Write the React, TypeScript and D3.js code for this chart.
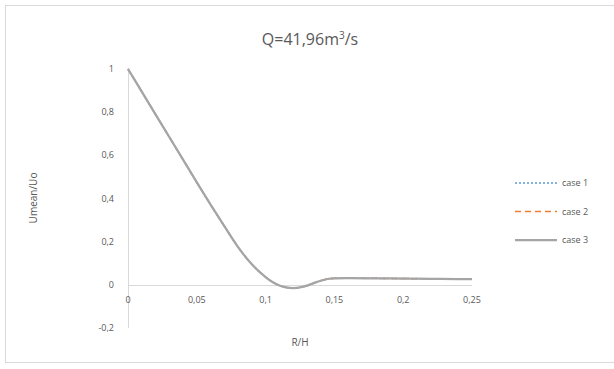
import * as d3 from 'd3';
import React, { useRef, useEffect } from 'react';

// R/H positions and Umean/Uo values
const rh = [0, 0.01, 0.02, 0.03, 0.04, 0.05, 0.06, 0.07, 0.08, 0.09, 0.1, 0.105, 0.11, 0.115, 0.12, 0.125, 0.13, 0.135, 0.14, 0.145, 0.15, 0.16, 0.18, 0.2, 0.22, 0.24, 0.25];
const caseOne = [1, 0.895, 0.79, 0.685, 0.58, 0.475, 0.372, 0.272, 0.175, 0.095, 0.036, 0.013, -0.003, -0.012, -0.015, -0.012, -0.004, 0.008, 0.019, 0.027, 0.03, 0.031, 0.03, 0.029, 0.028, 0.027, 0.026];
const caseTwo = [1, 0.895, 0.79, 0.685, 0.58, 0.475, 0.372, 0.272, 0.175, 0.095, 0.036, 0.013, -0.003, -0.012, -0.015, -0.012, -0.004, 0.008, 0.019, 0.027, 0.03, 0.031, 0.03, 0.029, 0.028, 0.027, 0.026];
const caseThree = [1, 0.895, 0.79, 0.685, 0.58, 0.475, 0.372, 0.272, 0.175, 0.095, 0.036, 0.013, -0.003, -0.012, -0.015, -0.012, -0.004, 0.008, 0.019, 0.027, 0.03, 0.031, 0.03, 0.029, 0.028, 0.027, 0.026];
const seriesNames = ['case 1', 'case 2', 'case 3'];
const xTicks = [0, 0.05, 0.1, 0.15, 0.2, 0.25];
const yTicks = [-0.2, 0, 0.2, 0.4, 0.6, 0.8, 1];

function App() {
  const ref = useRef<SVGSVGElement>(null);

  useEffect(() => {
    const width = 614;
    const font = 'Open Sans, Liberation Sans, sans-serif';
    const labelColor = '#595959';

    const svg = d3.select(ref.current);
    svg.selectAll('*').remove();

    svg.append('rect')
      .attr('x', 5.5).attr('y', 5.5)
      .attr('width', width + 10).attr('height', 357)
      .attr('fill', '#fff').attr('stroke', '#d9d9d9');

    const x = d3.scaleLinear().domain([0, 0.25]).range([128, 472]);
    const y = d3.scaleLinear().domain([-0.2, 1]).range([328, 69]);
    const fmt = (v: number) => String(+v.toFixed(2)).replace('.', ',');

    // axis lines
    svg.append('line')
      .attr('x1', x(0)).attr('x2', x(0.25))
      .attr('y1', Math.round(y(0)) + 0.5).attr('y2', Math.round(y(0)) + 0.5)
      .attr('stroke', '#d9d9d9');
    svg.append('line')
      .attr('x1', Math.round(x(0)) + 0.5).attr('x2', Math.round(x(0)) + 0.5)
      .attr('y1', y(1)).attr('y2', y(-0.2))
      .attr('stroke', '#d9d9d9');

    svg.append('g').selectAll('text')
      .data(yTicks).enter().append('text')
      .attr('x', 114).attr('y', d => y(d))
      .attr('dy', '0.35em').attr('text-anchor', 'end')
      .attr('font-family', font).attr('font-size', 9)
      .attr('fill', labelColor)
      .text(d => fmt(d));

    svg.append('g').selectAll('text')
      .data(xTicks).enter().append('text')
      .attr('x', d => x(d)).attr('y', y(0) + 18)
      .attr('text-anchor', 'middle')
      .attr('font-family', font).attr('font-size', 9)
      .attr('fill', labelColor)
      .text(d => fmt(d));

    const rows = rh.map((r, i) => ({ r, v: [caseOne[i], caseTwo[i], caseThree[i]] }));
    const colors = ['#5b9bd5', '#ed7d31', '#a5a5a5'];
    const dashes = ['2,2', '6,4', null];

    seriesNames.forEach((name, k) => {
      const line = d3.line<{ r: number; v: number[] }>()
        .x(d => x(d.r))
        .y(d => y(d.v[k]))
        .curve(d3.curveCatmullRom.alpha(0.5));
      svg.append('path')
        .datum(rows)
        .attr('d', line)
        .attr('fill', 'none')
        .attr('stroke', colors[k])
        .attr('stroke-width', k === 2 ? 2.25 : 1.5)
        .attr('stroke-dasharray', dashes[k]);

      const ly = 183 + k * 28.5;
      svg.append('line')
        .attr('x1', 515).attr('x2', 557)
        .attr('y1', ly).attr('y2', ly)
        .attr('stroke', colors[k])
        .attr('stroke-width', k === 2 ? 2.25 : 1.5)
        .attr('stroke-dasharray', dashes[k]);
      svg.append('text')
        .attr('x', 562).attr('y', ly).attr('dy', '0.35em')
        .attr('font-family', font).attr('font-size', 9)
        .attr('fill', labelColor)
        .text(name);
    });

    const title = svg.append('text')
      .attr('x', 310).attr('y', 45)
      .attr('text-anchor', 'middle')
      .attr('font-family', font).attr('font-size', 16)
      .attr('fill', labelColor);
    title.append('tspan').text('Q=41,96m');
    title.append('tspan').attr('dy', -6).attr('font-size', 10).text('3');
    title.append('tspan').attr('dy', 6).text('/s');

    svg.append('text')
      .attr('x', 300).attr('y', 346)
      .attr('text-anchor', 'middle')
      .attr('font-family', font).attr('font-size', 10)
      .attr('fill', labelColor)
      .text('R/H');

    svg.append('text')
      .attr('transform', 'translate(37,198) rotate(-90)')
      .attr('text-anchor', 'middle')
      .attr('font-family', font).attr('font-size', 10)
      .attr('fill', labelColor)
      .text('Umean/Uo');
  }, []);

  return (
    <svg ref={ref} width={614} height={369}
      style={{ position: 'absolute', left: 0, top: 0, display: 'block' }} />
  );
}

export default App;
